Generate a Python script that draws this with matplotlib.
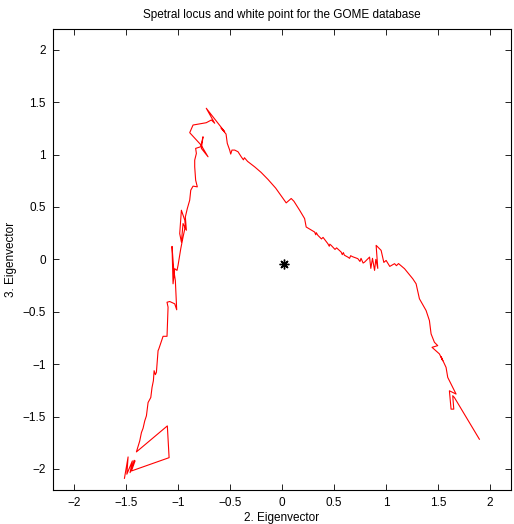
import numpy as np
import matplotlib
matplotlib.use('Agg')
import matplotlib.pyplot as plt

# spectral locus, projected on eigenvectors 2 and 3
locus_x = [
    -1.513, -1.478, -1.490, -1.437, -1.459, -1.420, -1.411, -1.446, -1.084, -1.101,
    -1.398, -1.366, -1.350, -1.334, -1.318, -1.302, -1.286, -1.260, -1.248, -1.235,
    -1.228, -1.216, -1.206, -1.197, -1.190, -1.183, -1.142, -1.104, -1.094, -1.104,
    -1.078, -1.030, -1.011, -1.024, -1.039, -1.056, -1.046, -1.030, -1.008, -0.998,
    -0.972, -0.950, -0.928, -0.933, -0.966, -0.982, -0.966, -0.950, -0.918, -0.928,
    -0.909, -0.886, -0.876, -0.854, -0.813, -0.829, -0.838, -0.838, -0.822, -0.829,
    -0.780, -0.758, -0.774, -0.710, -0.777, -0.886, -0.854, -0.727, -0.694, -0.678,
    -0.646, -0.727, -0.550, -0.585, -0.537, -0.525, -0.502, -0.492, -0.480, -0.454,
    -0.422, -0.391, -0.370, -0.360, -0.330, -0.262, -0.200, -0.134, -0.060, 0.041,
    0.089, 0.115, 0.170, 0.218, 0.233, 0.314, 0.325, 0.330, 0.345, 0.380,
    0.395, 0.441, 0.455, 0.460, 0.473, 0.510, 0.525, 0.569, 0.580, 0.590,
    0.600, 0.633, 0.650, 0.660, 0.680, 0.729, 0.750, 0.760, 0.780, 0.794,
    0.842, 0.854, 0.870, 0.890, 0.902, 0.921, 0.905, 0.953, 0.979, 1.001,
    1.036, 1.082, 1.100, 1.120, 1.178, 1.257, 1.289, 1.321, 1.385, 1.417,
    1.433, 1.465, 1.497, 1.442, 1.513, 1.545, 1.530, 1.577, 1.593, 1.641,
    1.673, 1.609, 1.625, 1.651, 1.641, 1.657, 1.897,
]
locus_y = [
    -2.089, -1.885, -2.050, -1.923, -2.035, -1.917, -1.923, -2.019, -1.892, -1.589,
    -1.837, -1.732, -1.653, -1.611, -1.541, -1.493, -1.366, -1.318, -1.222, -1.158,
    -1.062, -1.100, -1.078, -0.967, -0.871, -0.855, -0.734, -0.734, -0.456, -0.409,
    -0.402, -0.424, -0.481, -0.201, -0.105, 0.124, -0.233, -0.089, -0.105, -0.057,
    0.102, 0.213, 0.316, 0.373, 0.469, 0.246, 0.166, 0.342, 0.278, 0.405,
    0.485, 0.565, 0.660, 0.699, 0.692, 0.756, 0.883, 0.947, 1.011, 1.059,
    1.075, 1.170, 1.059, 0.979, 1.091, 1.209, 1.282, 1.304, 1.321, 1.330,
    1.299, 1.442, 1.218, 1.254, 1.196, 1.107, 1.043, 1.005, 1.043, 1.043,
    1.027, 0.979, 0.950, 0.970, 0.935, 0.883, 0.830, 0.763, 0.680, 0.539,
    0.581, 0.555, 0.469, 0.389, 0.309, 0.261, 0.235, 0.255, 0.230, 0.195,
    0.210, 0.150, 0.125, 0.145, 0.134, 0.095, 0.110, 0.070, 0.045, 0.065,
    0.040, 0.022, 0.010, 0.035, 0.025, 0.007, -0.020, 0.010, -0.035, -0.026,
    0.022, -0.086, 0.010, -0.105, 0.000, -0.086, 0.134, 0.086, -0.029, -0.010,
    -0.067, -0.041, -0.060, -0.040, -0.089, -0.185, -0.233, -0.376, -0.488, -0.584,
    -0.711, -0.791, -0.823, -0.839, -0.902, -0.967, -0.930, -1.031, -1.126, -1.222,
    -1.285, -1.254, -1.429, -1.429, -1.301, -1.318, -1.716,
]

# white point
white_x = [0.02]
white_y = [-0.048]

plt.rcParams['font.family'] = ['Liberation Sans', 'DejaVu Sans']
plt.rcParams['font.size'] = 8.5

fig = plt.figure(figsize=(5.14, 5.24), dpi=100)
ax = fig.add_axes([0.103, 0.065, 0.891, 0.880])

ax.plot(locus_x, locus_y, color='red', linewidth=0.8)
ax.plot(white_x, white_y, marker=(8, 2, 0), color='black', markersize=7,
        markeredgewidth=1.0, linestyle='none')

ax.set_xlim(-2.2, 2.2)
ax.set_ylim(-2.2, 2.2)
ticks = np.arange(-2, 2.01, 0.5)
ax.set_xticks(ticks)
ax.set_yticks(ticks)
fmt = lambda v: ('%g' % v).replace('-', '\u2212')
ax.set_xticklabels([fmt(t) for t in ticks])
ax.set_yticklabels([fmt(t) for t in ticks])
ax.tick_params(direction='in', top=True, right=True, length=4, width=0.6, pad=5)
for s in ax.spines.values():
    s.set_linewidth(0.8)

ax.set_title('Spetral locus and white point for the GOME database', fontsize=8.5, pad=8)
ax.set_xlabel('2. Eigenvector', labelpad=2)
ax.set_ylabel('3. Eigenvector', labelpad=4)

fig.savefig('out.png', dpi=100)
